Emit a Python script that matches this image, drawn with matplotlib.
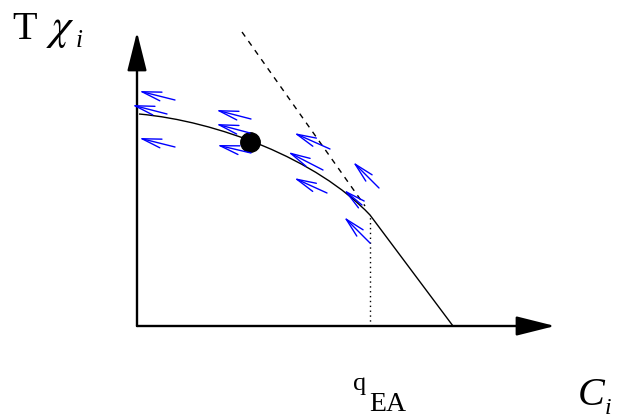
import matplotlib.pyplot as plt
import numpy as np
from matplotlib.path import Path
from matplotlib.patches import PathPatch

plt.rcParams['mathtext.fontset'] = 'stix'

# schematic: origin at the corner of the two axes, units ~ pixels
# smooth part of the curve as bezier control points, then a straight piece
curve_x = np.array([2, 80, 180, 233, 316])
curve_y = np.array([212, 205, 167, 111, 0])

tangent_x = np.array([105, 228])
tangent_y = np.array([294, 120])

q_ea = 233          # position of q_EA on the C axis
q_ea_level = 111    # curve value at q_EA

dot_x, dot_y = 113, 184

# blue flow arrows: tails and heads
tail_x = np.array([38, 30, 38, 114, 113, 114, 193, 186, 190, 242, 225, 233])
tail_y = np.array([226, 212, 179, 207, 193, 173, 177, 156, 133, 138, 121, 83])
head_x = np.array([2, -5, 2, 79, 79, 80, 157, 151, 157, 216, 207, 207])
head_y = np.array([235, 221, 188, 216, 202, 181, 193, 174, 148, 164, 136, 109])

x_axis_end = 418
y_axis_end = 294

fig = plt.figure(figsize=(6.18, 4.16), dpi=100)
ax = fig.add_axes([0, 0, 1, 1])
ax.set_xlim(-137, 481)
ax.set_ylim(-90, 326)
ax.axis('off')

# axes with filled arrow heads
axis_style = dict(arrowstyle='-|>,head_length=2.4,head_width=0.6', color='black',
                  lw=1.7, mutation_scale=10, shrinkA=0, shrinkB=0)
ax.annotate('', xy=(x_axis_end, 0), xytext=(0, 0), arrowprops=axis_style)
ax.annotate('', xy=(0, y_axis_end), xytext=(0, 0), arrowprops=axis_style)

codes = [Path.MOVETO, Path.CURVE4, Path.CURVE4, Path.CURVE4, Path.LINETO]
curve = Path(np.column_stack([curve_x, curve_y]), codes)
ax.add_patch(PathPatch(curve, fill=False, color='black', lw=1.0))

ax.plot(tangent_x, tangent_y, color='black', lw=1.0, ls=(0, (4, 4)))
ax.plot([q_ea, q_ea], [0, q_ea_level], color='black', lw=1.0, ls=(0, (1, 2.5)))
ax.plot(dot_x, dot_y, 'o', color='black', markersize=14)

for tx, ty, hx, hy in zip(tail_x, tail_y, head_x, head_y):
    ax.annotate('', xy=(hx, hy), xytext=(tx, ty),
                arrowprops=dict(arrowstyle='->,head_length=1.4,head_width=0.32',
                                color='#0000ff', lw=1.0, mutation_scale=10,
                                shrinkA=0, shrinkB=0))

serif = 'Liberation Serif'
ax.text(-125, 287, 'T', fontsize=29, family=serif)
ax.text(-91, 287, r'$\chi$', fontsize=32)
ax.text(-61, 279, 'i', fontsize=18, family=serif, style='italic')
ax.text(441, -79, 'C', fontsize=29, family=serif, style='italic')
ax.text(468, -88, 'i', fontsize=17, family=serif, style='italic')
ax.text(216, -64, 'q', fontsize=19, family=serif)
ax.text(232, -85, 'EA', fontsize=20, family=serif)

plt.savefig('out.png', dpi=100)
